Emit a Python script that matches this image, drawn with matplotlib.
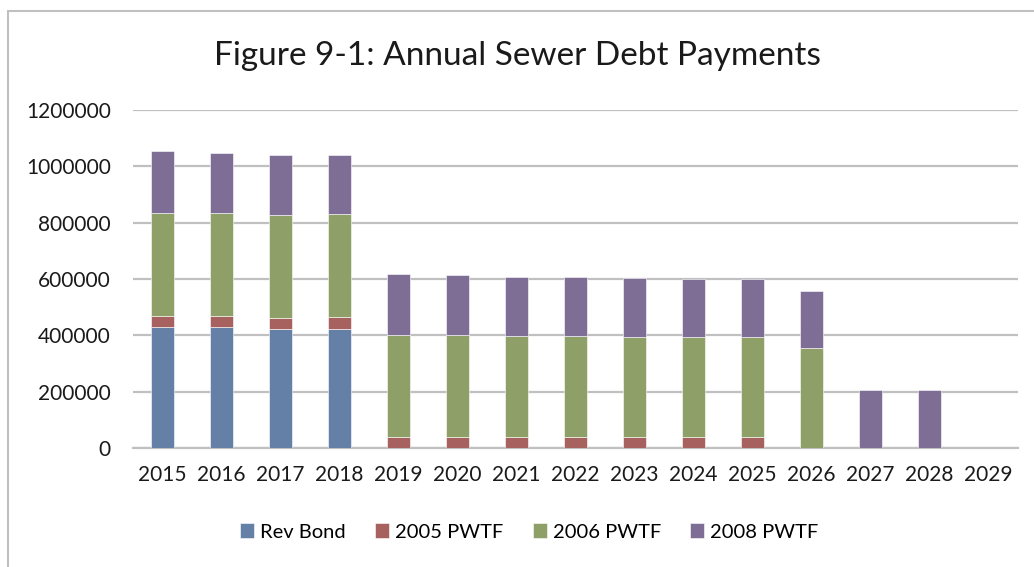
import numpy as np
import matplotlib.pyplot as plt
from matplotlib.patches import Rectangle

plt.rcParams['font.family'] = ['Lato', 'DejaVu Sans']

years = ['2015', '2016', '2017', '2018', '2019', '2020', '2021', '2022',
         '2023', '2024', '2025', '2026', '2027', '2028', '2029']
rev_bond = [428000, 428000, 423500, 423500, 0, 0, 0, 0, 0, 0, 0, 0, 0, 0, 0]
pwtf_2005 = [41000, 41000, 36500, 40000, 39000, 39000, 39000, 39000, 39000,
             39000, 39000, 0, 0, 0, 0]
pwtf_2006 = [366000, 366000, 366000, 367000, 363000, 363000, 360000, 360000,
             356000, 356000, 356000, 354000, 0, 0, 0]
pwtf_2008 = [218000, 213000, 213000, 208000, 214500, 211000, 209000, 209000,
             208500, 204000, 204000, 203500, 204700, 204700, 0]

series = [rev_bond, pwtf_2005, pwtf_2006, pwtf_2008]
names = ['Rev Bond', '2005 PWTF', '2006 PWTF', '2008 PWTF']
colors = ['#6480a7', '#a7625f', '#8ea067', '#7e6e95']

fig = plt.figure(figsize=(10.34, 5.67), dpi=100)
ax = fig.add_axes([133 / 1034, 1 - 448 / 567, (1018 - 133) / 1034, (448 - 110) / 567])

x = np.arange(len(years))
bottom = np.zeros(len(years))
for vals, name, c in zip(series, names, colors):
    vals = np.array(vals, dtype=float)
    ax.bar(x, vals, 0.4, bottom=bottom, color=c, label=name,
           edgecolor='#ffffff', linewidth=0.4, zorder=3)
    bottom += vals

ax.set_xlim(-0.5, len(years) - 0.5)
ax.set_ylim(0, 1200000)
ax.set_yticks(np.arange(0, 1200001, 200000))
ax.set_yticklabels([str(v) for v in range(0, 1200001, 200000)])
ax.set_xticks(x)
ax.set_xticklabels(years)
ax.grid(axis='y', color='#c0c0c0', linewidth=1.6, zorder=0)
for s in ['top', 'right', 'left']:
    ax.spines[s].set_visible(False)
ax.spines['bottom'].set_color('#c0c0c0')
ax.spines['bottom'].set_linewidth(1.6)
ax.tick_params(axis='both', length=0, labelsize=15, colors='#1a1a1a')
ax.tick_params(axis='y', pad=16)
ax.tick_params(axis='x', pad=12)

fig.text(0.5, 1 - 56 / 567, 'Figure 9-1: Annual Sewer Debt Payments',
         ha='center', va='center', fontsize=24, color='#1a1a1a')

fig.legend(loc='center', bbox_to_anchor=(0.512, 1 - 532 / 567), ncol=4,
           frameon=False, fontsize=14.5, handlelength=0.7, handleheight=0.7,
           handletextpad=0.3, columnspacing=1.45)

# chart border (top and left edges visible in the crop)
fig.patches.append(Rectangle((8 / 1034, -0.2), 1.5, 1.2 - 11 / 567,
                             transform=fig.transFigure, fill=False,
                             edgecolor='#c0c0c0', linewidth=1.5))

fig.savefig('out.png', dpi=100)
